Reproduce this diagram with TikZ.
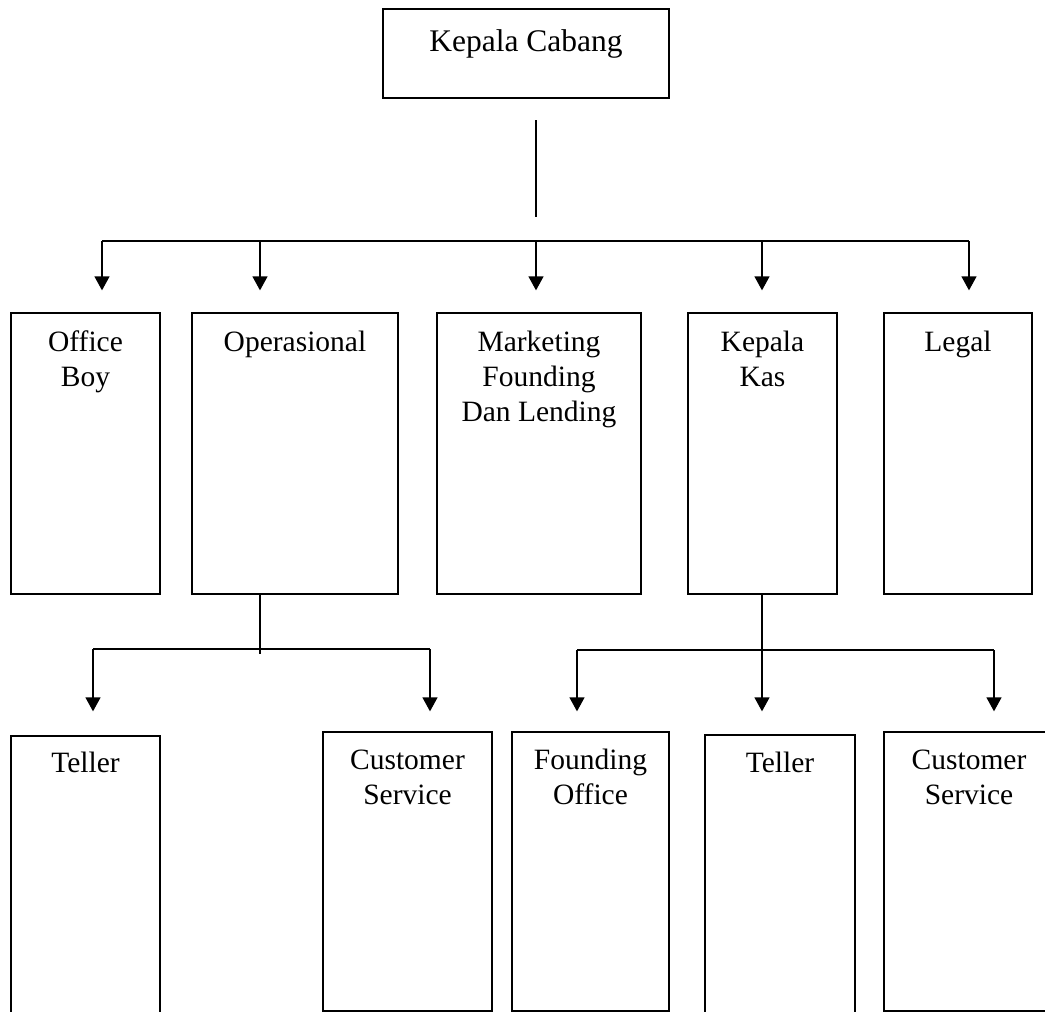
\documentclass[tikz,border=0pt]{standalone}
\usepackage{fontspec}
\setmainfont{Liberation Serif}
\usetikzlibrary{arrows.meta}
\tikzset{
	unit/.style={draw, line width=1.3pt, inner sep=0pt},
	title/.style={anchor=north, inner sep=0pt, align=center, font=\fontsize{29.5}{35}\selectfont},
	link/.style={line width=1.3pt},
	arr/.style={link, -{Triangle[width=15pt,length=14pt]}}
}
\begin{document}
\begin{tikzpicture}[x=1pt, y=-1pt]
	\clip (0,0) rectangle (1045,1012);
	% boxes
	\node [unit, minimum width=286pt, minimum height=89pt] (kc) at (526,53.5) {};
	\node [unit, minimum width=149pt, minimum height=281pt] (ob) at (85.5,453.5) {};
	\node [unit, minimum width=206pt, minimum height=281pt] (op) at (295,453.5) {};
	\node [unit, minimum width=204pt, minimum height=281pt] (mk) at (539,453.5) {};
	\node [unit, minimum width=149pt, minimum height=281pt] (kk) at (762.5,453.5) {};
	\node [unit, minimum width=148pt, minimum height=281pt] (lg) at (958,453.5) {};
	\node [unit, minimum width=149pt, minimum height=304pt] (t1) at (85.5,888) {};
	\node [unit, minimum width=169pt, minimum height=279pt] (cs1) at (407.5,871.5) {};
	\node [unit, minimum width=157pt, minimum height=279pt] (fo) at (590.5,871.5) {};
	\node [unit, minimum width=150pt, minimum height=305pt] (t2) at (780,887.5) {};
	\node [unit, minimum width=170pt, minimum height=279pt] (cs2) at (969,871.5) {};
	% texts
	\node [title, font=\fontsize{31.5}{37}\selectfont] (kc-t) at ([yshift=-17pt]kc.north) {\strut Kepala Cabang};
	\node [title] (ob-t) at ([yshift=-14.5pt]ob.north) {\strut Office\\Boy};
	\node [title] (op-t) at ([yshift=-14.5pt]op.north) {\strut Operasional};
	\node [title] (mk-t) at ([yshift=-14.5pt]mk.north) {\strut Marketing\\Founding\\Dan Lending};
	\node [title] (kk-t) at ([yshift=-14.5pt]kk.north) {\strut Kepala\\Kas};
	\node [title] (lg-t) at ([yshift=-14.5pt]lg.north) {\strut Legal};
	\node [title] (t1-t) at ([yshift=-12.5pt]t1.north) {\strut Teller};
	\node [title] (cs1-t) at ([yshift=-13.5pt]cs1.north) {\strut Customer\\Service};
	\node [title] (fo-t) at ([yshift=-13.5pt]fo.north) {\strut Founding\\Office};
	\node [title] (t2-t) at ([yshift=-13.5pt]t2.north) {\strut Teller};
	\node [title] (cs2-t) at ([yshift=-13.5pt]cs2.north) {\strut Customer\\Service};
	% kepala cabang to first row
	\coordinate (kc-a) at (536,120);
	\coordinate (kc-b) at (536,217);
	\draw [link] (kc-a) -- (kc-b);
	\coordinate (bus-l) at (102,241);
	\coordinate (bus-r) at (969,241);
	\draw [link] (bus-l) -- (bus-r);
	\foreach \x/\n in {102/ob, 260/op, 536/mk, 762/kk, 969/lg}{
		\coordinate (b-\n) at (\x,241);
		\draw [arr, shorten >=22pt] (b-\n) -- (b-\n |- \n.north);
	}
	% operasional
	\draw [link] (op.south -| b-op) -- ++(0,59);
	\coordinate (op-l) at (93,649);
	\coordinate (op-r) at (430,649);
	\draw [link] (op-l) -- (op-r);
	\draw [arr, shorten >=24pt] (op-l) -- (op-l |- t1.north);
	\draw [arr, shorten >=20pt] (op-r) -- (op-r |- cs1.north);
	% kepala kas
	\draw [arr, shorten >=23pt] (kk.south -| b-kk) -- (b-kk |- t2.north);
	\coordinate (kk-l) at (577,650);
	\coordinate (kk-r) at (994,650);
	\draw [link] (kk-l) -- (kk-r);
	\draw [arr, shorten >=20pt] (kk-l) -- (kk-l |- fo.north);
	\draw [arr, shorten >=20pt] (kk-r) -- (kk-r |- cs2.north);
\end{tikzpicture}
\end{document}
